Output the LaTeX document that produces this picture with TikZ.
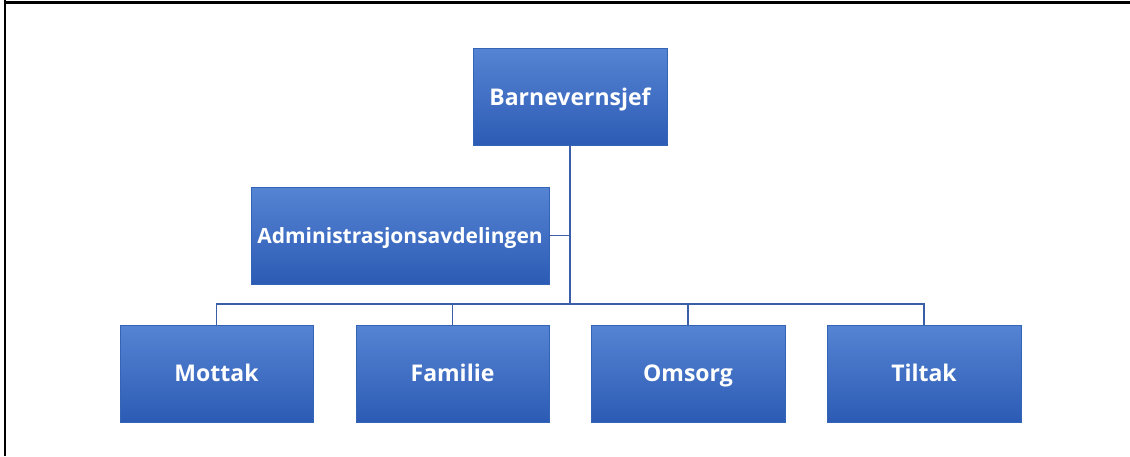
\documentclass[tikz,border=0pt]{standalone}
\usepackage{fontspec}
\setmainfont{Open Sans}
\usetikzlibrary{positioning}
\definecolor{boxtop}{HTML}{5584D3}
\definecolor{boxbot}{HTML}{2C5BB5}
\definecolor{boxedge}{HTML}{3563B5}
\definecolor{linkc}{HTML}{3A5FA8}
\tikzset{
  orgbox/.style={rectangle, top color=boxtop, bottom color=boxbot, draw=boxedge, line width=0.8pt,
    minimum height=97pt, inner sep=0pt, text=white, font=\fontsize{23}{27}\selectfont\bfseries,
    text height=16.4pt, text depth=0pt},
  smalltext/.style={font=\fontsize{21}{25}\selectfont\bfseries, text height=15pt},
  link/.style={draw=linkc, line width=1.6pt},
  frame/.style={draw=black, line width=2.6pt}
}
\begin{document}
\begin{tikzpicture}[x=1pt,y=-1pt]
\useasboundingbox (0,0) rectangle (1130,456);
\fill[white] (0,0) rectangle (1130,456);
\draw[frame] (5,0) -- (5,456);
\draw[frame] (3.7,2.3) -- (1130,2.3);

\node[orgbox, minimum width=194pt] (chief) at (570,97) {Barnevernsjef};
\node[orgbox, smalltext, minimum width=298pt] (admin) at (400,235.5) {Administrasjonsavdelingen};
\node[orgbox, minimum width=193pt] (m) at (216.5,373.5) {Mottak};
\node[orgbox, minimum width=193pt] (f) at (452.5,373.5) {Familie};
\node[orgbox, minimum width=194pt] (o) at (688,373.5) {Omsorg};
\node[orgbox, minimum width=194pt] (t) at (924,373.5) {Tiltak};

\coordinate (junc) at (570,304);
\coordinate (adj) at (570,235.5);
\draw[link] (chief.south) -- (junc);
\draw[link] (admin.east) -- (adj);
\draw[link] (m.north) |- (junc);
\draw[link] (f.north) -- (f.north |- junc);
\draw[link] (o.north) -- (o.north |- junc);
\draw[link] (t.north) |- (junc);
\end{tikzpicture}
\end{document}
